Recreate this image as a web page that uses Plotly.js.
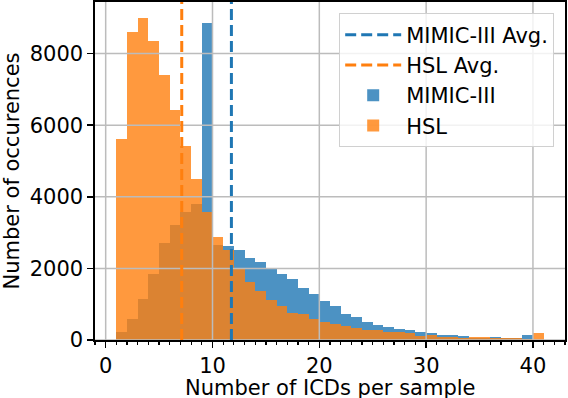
<!DOCTYPE html>
<html>
<head>
<meta charset="utf-8">
<script src="https://cdn.plot.ly/plotly-3.0.1.min.js"></script>
<style>
  html, body { margin: 0; padding: 0; background: #fff; }
  #chart { width: 568px; height: 398px; }
</style>
</head>
<body>
<div id="chart"></div>
<script>
// left edges of the width-1 bins
var mimicBins = [1,2,3,4,5,6,7,8,9,10,11,12,13,14,15,16,17,18,19,20,
                 21,22,23,24,25,26,27,28,29,30,31,32,33,34,35,36,37,38,39];
var mimicCounts = [220,600,1140,1840,2700,3220,3570,3790,8840,2650,
                   2620,2510,2300,2190,1980,1850,1690,1450,1280,1090,
                   950,735,630,500,420,370,305,270,220,195,
                   140,130,110,55,60,70,50,45,130];

var hslBins = [1,2,3,4,5,6,7,8,9,10,11,12,13,14,15,16,17,18,19,20,
               21,22,23,24,25,26,27,28,29,30,31,32,33,34,35,36,37,38,39,40];
var hslCounts = [5620,8610,8990,8360,7410,6420,5420,4510,3570,2880,
                 2510,2010,1620,1370,1120,960,750,735,585,510,
                 445,400,345,290,280,230,215,195,110,130,
                 75,75,65,85,85,60,50,45,35,205];

var mimicAvg = 11.77;
var hslAvg = 7.12;

var xTicks = [0, 10, 20, 30, 40];
var yTicks = [0, 2000, 4000, 6000, 8000];

var blue = '#1f77b4', orange = '#ff7f0e';
var font = 'DejaVu Sans, sans-serif';

function centers(edges) { return edges.map(function (e) { return e + 0.5; }); }

var mimic = {
  type: 'bar', name: 'MIMIC-III',
  x: centers(mimicBins), y: mimicCounts, width: 1,
  marker: {color: 'rgba(31,119,180,0.8)', line: {width: 0}},
  legendrank: 3, hoverinfo: 'skip'
};
var hsl = {
  type: 'bar', name: 'HSL',
  x: centers(hslBins), y: hslCounts, width: 1,
  marker: {color: 'rgba(255,127,14,0.8)', line: {width: 0}},
  legendrank: 4, hoverinfo: 'skip'
};

// grid is drawn over the bars, like matplotlib does
var shapes = [];
xTicks.forEach(function (v) {
  shapes.push({type: 'line', layer: 'above', xref: 'x', yref: 'paper',
    x0: v, x1: v, y0: 0, y1: 1, line: {color: '#bcbcbc', width: 1.5}});
});
yTicks.forEach(function (v) {
  shapes.push({type: 'line', layer: 'above', xref: 'paper', yref: 'y',
    x0: 0, x1: 1, y0: v, y1: v, line: {color: '#bcbcbc', width: 1.5}});
});
shapes.push({type: 'line', layer: 'above', xref: 'x', yref: 'paper',
  x0: mimicAvg, x1: mimicAvg, y0: 0, y1: 1,
  line: {color: blue, width: 3, dash: '11px,5px'},
  showlegend: true, name: 'MIMIC-III Avg.', legendrank: 1});
shapes.push({type: 'line', layer: 'above', xref: 'x', yref: 'paper',
  x0: hslAvg, x1: hslAvg, y0: 0, y1: 1,
  line: {color: orange, width: 3, dash: '11px,5px'},
  showlegend: true, name: 'HSL Avg.', legendrank: 2});

var layout = {
  width: 568, height: 398,
  margin: {l: 95, r: 3, t: 2, b: 58},
  paper_bgcolor: '#fff', plot_bgcolor: '#fff',
  font: {family: font, size: 21, color: '#000'},
  barmode: 'overlay', bargap: 0,
  showlegend: true,
  xaxis: {
    range: [-1, 43], tickvals: xTicks, showgrid: false, zeroline: false,
    showline: true, mirror: true, linecolor: '#000', linewidth: 1.6,
    ticks: 'outside', ticklen: 6, tickwidth: 1.6, tickcolor: '#000',
    minor: {dtick: 1, tick0: 0, ticks: 'outside', ticklen: 3.5, tickwidth: 1.2, tickcolor: '#000', showgrid: false},
    tickfont: {size: 21},
    layer: 'above traces'
  },
  yaxis: {
    range: [0, 9440], tickvals: yTicks, showgrid: false, zeroline: false,
    showline: true, mirror: true, linecolor: '#000', linewidth: 1.6,
    ticks: 'outside', ticklen: 6, tickwidth: 1.6, tickcolor: '#000',
    tickfont: {size: 21},
    title: {text: 'Number of occurences', font: {size: 21}, standoff: 8},
    layer: 'above traces'
  },
  // x title as an annotation so it can sit a little lower, as in the original
  annotations: [{
    text: 'Number of ICDs per sample', xref: 'paper', yref: 'paper',
    x: 0.5, y: 0, xanchor: 'center', yanchor: 'top', yshift: -34,
    showarrow: false, font: {size: 21}
  }],
  legend: {
    x: 0.977, y: 0.966, xanchor: 'right', yanchor: 'top',
    bgcolor: 'rgba(255,255,255,0.8)', bordercolor: '#d0d0d0', borderwidth: 1,
    font: {size: 21}, itemwidth: 56, tracegroupgap: 0
  },
  shapes: shapes
};

Plotly.newPlot('chart', [mimic, hsl], layout, {displayModeBar: false, staticPlot: true});
</script>
</body>
</html>
